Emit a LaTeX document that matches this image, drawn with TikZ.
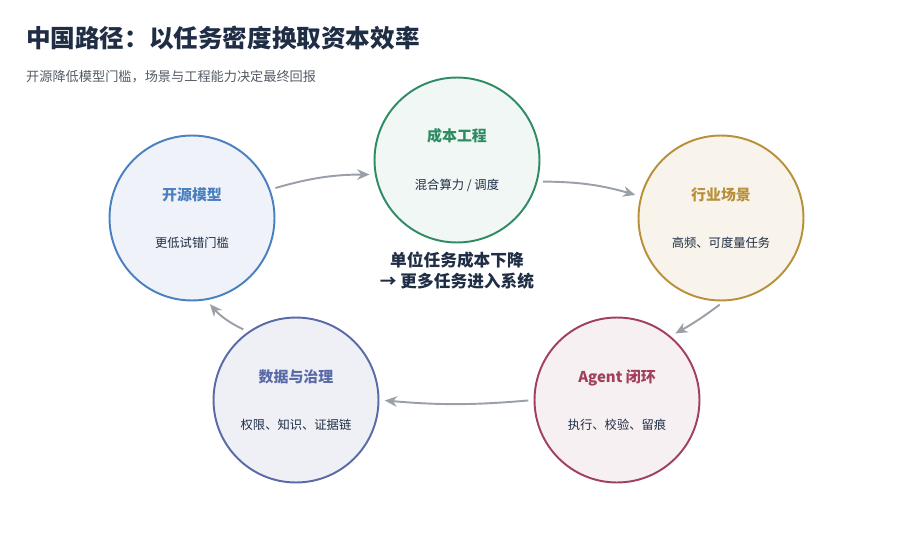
\documentclass[tikz,border=0pt]{standalone}
\usepackage{fontspec}
\setmainfont{Noto Sans CJK SC}
\usetikzlibrary{arrows.meta}
\definecolor{navy}{HTML}{1F2D45}
\definecolor{subgrey}{HTML}{555B66}
\definecolor{arrowgrey}{HTML}{9AA0A8}
\definecolor{cblue}{HTML}{4A7FC0}
\definecolor{cgreen}{HTML}{2E8B62}
\definecolor{cgold}{HTML}{B8903A}
\definecolor{cred}{HTML}{A0405A}
\definecolor{cslate}{HTML}{5A6AA8}
\tikzset{
  stage/.style={circle,minimum size=3.3cm,line width=1.1pt,align=center,inner sep=0pt},
  flow/.style={-{Stealth[length=7pt,width=6pt]},arrowgrey,line width=1.1pt,shorten <=3pt,shorten >=3pt},
}
\newcommand{\stagetext}[3]{{\color{#1}\bfseries\fontsize{8.5}{10}\selectfont #2}\\[15pt]{\color{navy}\fontsize{7}{9}\selectfont #3}}
\begin{document}
\begin{tikzpicture}[x=0.02cm,y=-0.02cm]
  \useasboundingbox (0,0) rectangle (914,534);
  \node[anchor=west,text=navy,font=\bfseries\fontsize{14}{17}\selectfont] (title) at (20,38) {中国路径：以任务密度换取资本效率};
  \node[anchor=west,text=subgrey,font=\fontsize{7.5}{9}\selectfont] (sub) at (20,77) {开源降低模型门槛，场景与工程能力决定最终回报};
  % stages
  \node[stage,draw=cblue,fill=cblue!9] (open) at (192,218) {\stagetext{cblue}{开源模型}{更低试错门槛}};
  \node[stage,draw=cgreen,fill=cgreen!7] (cost) at (457,160) {\stagetext{cgreen}{成本工程}{混合算力 / 调度}};
  \node[stage,draw=cgold,fill=cgold!10] (scene) at (721,218) {\stagetext{cgold}{行业场景}{高频、可度量任务}};
  \node[stage,draw=cred,fill=cred!8] (agent) at (617,400) {\stagetext{cred}{Agent 闭环}{执行、校验、留痕}};
  \node[stage,draw=cslate,fill=cslate!10] (data) at (296,400) {\stagetext{cslate}{数据与治理}{权限、知识、证据链}};
  \node[text=navy,align=center,font=\bfseries\fontsize{9.5}{12}\selectfont] (core) at (457,271) {单位任务成本下降\\→ 更多任务进入系统};
  % flow
  \draw[flow] (open.20) to[bend left=8] (cost.190);
  \draw[flow] (cost.-15) to[bend left=8] (scene.165);
  \draw[flow] (scene.-88) to[bend left=4] (agent.50);
  \draw[flow] (agent.180) to[bend left=5] (data.0);
  \draw[flow] (data.125) to[bend left=12] (open.-80);
\end{tikzpicture}
\end{document}
